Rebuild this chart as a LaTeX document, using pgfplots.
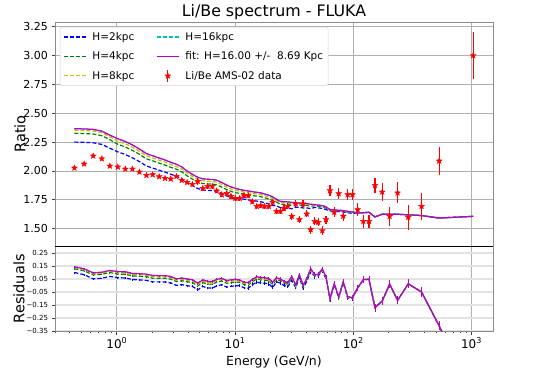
\documentclass[border=0pt]{standalone}
\usepackage{fontspec}
\setmainfont{DejaVu Sans}
\usepackage{pgfplots}
\usepackage{pgfplotstable}
\pgfplotsset{compat=1.18}

\definecolor{mplb}{rgb}{0,0,1}
\definecolor{mplg}{rgb}{0,0.5,0}
\definecolor{mply}{rgb}{0.75,0.75,0}
\definecolor{mplc}{rgb}{0,0.75,0.75}
\definecolor{mplm}{rgb}{0.75,0,0.75}
\definecolor{mplr}{rgb}{1,0,0}
\definecolor{gridgray}{RGB}{176,176,176}
\definecolor{spine}{RGB}{140,140,140}

% filled five-pointed star, like matplotlib's '*'
\pgfdeclareplotmark{fstar}{%
  \pgfpathmoveto{\pgfpointpolar{90}{\pgfplotmarksize}}%
  \pgfpathlineto{\pgfpointpolar{126}{0.42\pgfplotmarksize}}%
  \pgfpathlineto{\pgfpointpolar{162}{\pgfplotmarksize}}%
  \pgfpathlineto{\pgfpointpolar{198}{0.42\pgfplotmarksize}}%
  \pgfpathlineto{\pgfpointpolar{234}{\pgfplotmarksize}}%
  \pgfpathlineto{\pgfpointpolar{270}{0.42\pgfplotmarksize}}%
  \pgfpathlineto{\pgfpointpolar{306}{\pgfplotmarksize}}%
  \pgfpathlineto{\pgfpointpolar{342}{0.42\pgfplotmarksize}}%
  \pgfpathlineto{\pgfpointpolar{18}{\pgfplotmarksize}}%
  \pgfpathlineto{\pgfpointpolar{54}{0.42\pgfplotmarksize}}%
  \pgfpathclose
  \pgfusepathqfillstroke
}

\tikzset{
  hdash/.style={line width=1.2pt, dash pattern=on 4pt off 2pt},
}
\pgfplotsset{
  longline/.style={legend image code/.code={\draw[##1] (0pt,0pt) -- (22pt,0pt);}},
  datalegend/.style={legend image code/.code={
    \draw[color=mplr, line width=1.2pt] (11pt,-6pt) -- (11pt,6pt);
    \begin{scope}[shift={(11pt,0pt)}, color=mplr]
      \pgfsetplotmarksize{3pt}\pgfuseplotmark{fstar}
    \end{scope}}},
}

% E [GeV/n], Li/Be data, error, models H=2,4,8,16 (fit), residuals, residual error
\pgfplotstableread{
E d err m2 m4 m8 m16 r2 r4 r8 r16 rerr
0.438 2.026 0.010 2.250 2.326 2.352 2.366 0.100 0.129 0.139 0.144 0.005
0.529 2.061 0.010 2.248 2.324 2.350 2.364 0.083 0.113 0.123 0.128 0.005
0.631 2.130 0.010 2.244 2.320 2.346 2.360 0.051 0.082 0.092 0.097 0.005
0.747 2.106 0.010 2.230 2.305 2.331 2.345 0.056 0.086 0.096 0.102 0.005
0.873 2.043 0.010 2.197 2.271 2.296 2.310 0.070 0.100 0.110 0.116 0.005
1.02 2.035 0.010 2.165 2.231 2.258 2.279 0.060 0.088 0.099 0.107 0.005
1.18 2.017 0.010 2.142 2.208 2.235 2.255 0.058 0.086 0.097 0.106 0.005
1.355 2.017 0.010 2.114 2.178 2.205 2.225 0.046 0.074 0.085 0.093 0.005
1.553 1.991 0.010 2.081 2.144 2.170 2.190 0.043 0.071 0.083 0.091 0.005
1.78 1.962 0.010 2.043 2.105 2.131 2.150 0.039 0.068 0.079 0.087 0.005
2.01 1.968 0.010 2.025 2.087 2.113 2.132 0.028 0.057 0.069 0.077 0.005
2.28 1.951 0.010 2.006 2.068 2.093 2.112 0.028 0.056 0.068 0.076 0.005
2.56 1.936 0.010 1.990 2.051 2.076 2.095 0.027 0.056 0.067 0.076 0.005
2.86 1.931 0.010 1.971 2.031 2.056 2.075 0.020 0.049 0.061 0.069 0.005
3.19 1.953 0.010 1.955 2.015 2.039 2.058 0.001 0.031 0.042 0.051 0.005
3.54 1.919 0.015 1.933 1.992 2.017 2.035 0.007 0.037 0.048 0.057 0.008
3.93 1.901 0.015 1.900 1.958 1.982 2.000 -0.001 0.029 0.041 0.050 0.008
4.36 1.884 0.015 1.872 1.929 1.952 1.970 -0.007 0.023 0.035 0.044 0.008
4.84 1.910 0.030 1.848 1.904 1.928 1.945 -0.034 -0.003 0.009 0.018 0.012
5.33 1.849 0.020 1.835 1.891 1.915 1.932 -0.007 0.022 0.034 0.043 0.008
5.86 1.867 0.020 1.832 1.888 1.911 1.928 -0.019 0.011 0.023 0.032 0.008
6.43 1.867 0.020 1.830 1.886 1.909 1.926 -0.020 0.010 0.022 0.031 0.008
7.00 1.828 0.020 1.823 1.879 1.902 1.919 -0.003 0.027 0.039 0.047 0.008
7.72 1.795 0.020 1.805 1.860 1.883 1.900 0.006 0.035 0.047 0.055 0.008
8.51 1.806 0.020 1.783 1.838 1.860 1.877 -0.013 0.017 0.029 0.038 0.008
9.25 1.780 0.020 1.769 1.823 1.845 1.862 -0.006 0.023 0.035 0.044 0.008
10.06 1.763 0.020 1.758 1.811 1.833 1.850 -0.003 0.027 0.038 0.047 0.008
10.96 1.763 0.020 1.763 1.807 1.825 1.840 0.000 0.024 0.034 0.042 0.008
11.91 1.786 0.020 1.755 1.799 1.817 1.832 -0.018 0.007 0.017 0.025 0.008
12.95 1.786 0.022 1.749 1.793 1.811 1.826 -0.021 0.004 0.014 0.022 0.012
14.0 1.734 0.022 1.744 1.787 1.805 1.820 0.006 0.030 0.040 0.047 0.012
15.25 1.694 0.022 1.739 1.782 1.800 1.815 0.026 0.050 0.059 0.067 0.012
16.5 1.700 0.023 1.734 1.777 1.796 1.810 0.020 0.044 0.053 0.061 0.012
17.8 1.694 0.023 1.724 1.768 1.786 1.800 0.018 0.042 0.051 0.059 0.012
19.3 1.694 0.024 1.715 1.758 1.776 1.790 0.012 0.036 0.046 0.054 0.012
20.8 1.728 0.024 1.700 1.743 1.761 1.775 -0.016 0.009 0.019 0.026 0.012
22.4 1.651 0.025 1.699 1.730 1.744 1.755 0.028 0.046 0.054 0.059 0.012
24.2 1.651 0.025 1.681 1.713 1.727 1.737 0.018 0.036 0.044 0.050 0.012
25.9 1.676 0.026 1.679 1.710 1.724 1.734 0.001 0.020 0.028 0.033 0.012
27.9 1.694 0.027 1.677 1.708 1.722 1.732 -0.010 0.008 0.016 0.022 0.012
30.2 1.607 0.030 1.673 1.704 1.718 1.728 0.039 0.057 0.064 0.070 0.012
32.6 1.715 0.030 1.686 1.707 1.717 1.724 -0.017 -0.005 0.001 0.005 0.012
35.0 1.579 0.030 1.684 1.705 1.715 1.722 0.062 0.074 0.079 0.083 0.012
37.6 1.715 0.030 1.680 1.701 1.711 1.718 -0.021 -0.008 -0.002 0.002 0.012
40.4 1.628 0.030 1.680 1.701 1.711 1.718 0.031 0.043 0.049 0.052 0.012
43.6 1.492 0.035 1.674 1.695 1.705 1.712 0.109 0.120 0.125 0.129 0.018
47.2 1.564 0.035 1.684 1.698 1.705 1.708 0.071 0.079 0.082 0.084 0.018
50.6 1.555 0.035 1.680 1.694 1.701 1.704 0.074 0.082 0.086 0.087 0.018
54.7 1.484 0.035 1.676 1.690 1.697 1.700 0.115 0.122 0.125 0.127 0.018
58.8 1.579 0.035 1.666 1.680 1.687 1.690 0.052 0.060 0.064 0.066 0.018
63.5 1.830 0.045 1.653 1.660 1.663 1.665 -0.107 -0.102 -0.100 -0.099 0.018
69.1 1.642 0.045 1.651 1.658 1.661 1.663 0.006 0.010 0.012 0.013 0.018
75.3 1.804 0.045 1.648 1.655 1.658 1.660 -0.094 -0.090 -0.088 -0.087 0.018
82.3 1.609 0.045 1.645 1.652 1.655 1.657 0.022 0.026 0.028 0.029 0.018
89.7 1.795 0.045 1.638 1.645 1.648 1.650 -0.096 -0.091 -0.089 -0.088 0.018
98.4 1.795 0.045 1.633 1.640 1.643 1.645 -0.099 -0.094 -0.092 -0.091 0.018
109 1.665 0.058 1.636 1.636 1.636 1.636 -0.018 -0.018 -0.018 -0.018 0.025
121.6 1.564 0.058 1.638 1.638 1.638 1.638 0.045 0.045 0.045 0.045 0.025
135.7 1.564 0.058 1.642 1.642 1.642 1.642 0.048 0.048 0.048 0.048 0.025
152.5 1.875 0.065 1.602 1.602 1.602 1.602 -0.170 -0.170 -0.170 -0.170 0.030
175.8 1.818 0.080 1.625 1.625 1.625 1.625 -0.119 -0.119 -0.119 -0.119 0.030
203 1.607 0.082 1.625 1.625 1.625 1.625 0.011 0.011 0.011 0.011 0.030
237 1.810 0.090 1.625 1.625 1.625 1.625 -0.114 -0.114 -0.114 -0.114 0.030
292 1.599 0.108 1.620 1.620 1.620 1.620 0.013 0.013 0.013 0.013 0.035
378 1.694 0.115 1.614 1.614 1.614 1.614 -0.050 -0.050 -0.050 -0.050 0.035
533 2.087 0.123 1.592 1.592 1.592 1.592 -0.311 -0.311 -0.311 -0.311 0.035
1033 3.000 0.200 1.607 1.607 1.607 1.607 -0.867 -0.867 -0.867 -0.867 0.050
}\libe

\begin{document}
\begin{tikzpicture}
\path[use as bounding box] (0,0) rectangle (548pt,368pt);

% ---- spectrum ----
\begin{axis}[
  scale only axis, width=438pt, height=224pt,
  at={(55pt,122pt)}, anchor=south west,
  xmode=log, xmin=0.30, xmax=1520,
  ymin=1.35, ymax=3.29,
  axis line style={line width=0.8pt, spine},
  tick style={line width=0.8pt, black!75},
  major tick length=3.5pt, minor tick length=2pt,
  tick align=outside, ytick pos=left,
  xtick={1,10,100,1000}, xticklabels={},
  major x tick style={draw=none}, minor x tick style={draw=none},
  grid=major, major grid style={gridgray, line width=0.8pt},
  ytick={1.5,1.75,2,2.25,2.5,2.75,3,3.25},
  yticklabel style={font=\fontsize{11}{13}\selectfont,
    /pgf/number format/.cd, fixed, fixed zerofill, precision=2, assume math mode=true},
  ylabel={Ratio},
  ylabel style={at={(axis description cs:-0.080,0.5)}, anchor=center, font=\fontsize{14.5}{17}\selectfont},
  title={Li/Be spectrum - FLUKA},
  title style={at={(axis description cs:0.5,1)}, anchor=base, yshift=0pt, font=\fontsize{15.8}{18}\selectfont},
  legend columns=2, legend cell align=left,
  legend style={at={(0,1)}, anchor=north west, xshift=5pt, yshift=-5pt,
    draw=gray!35, rounded corners=2pt, fill=white,
    inner xsep=3pt, inner ysep=3pt,
    font=\fontsize{10.5}{12}\selectfont, row sep=6pt,
    /tikz/every odd column/.append style={column sep=4pt},
    /tikz/every even column/.append style={column sep=20pt}},
]
\addplot[mplb, hdash, forget plot] table[x=E, y=m2] {\libe};
\addplot[mplg, hdash, forget plot] table[x=E, y=m4] {\libe};
\addplot[mply, hdash, forget plot] table[x=E, y=m8] {\libe};
\addplot[mplc, hdash, forget plot] table[x=E, y=m16] {\libe};
\addplot[mplm, line width=1.2pt, forget plot] table[x=E, y=m16] {\libe};
\addplot[mplr, only marks, mark=fstar, mark size=3pt, forget plot,
  error bars/.cd, y dir=both, y explicit, error mark=none,
  error bar style={line width=1.2pt, color=mplr}]
  table[x=E, y=d, y error=err] {\libe};

\addlegendimage{mplb, hdash, longline}\addlegendentry{H=2kpc}
\addlegendimage{mplc, hdash, longline}\addlegendentry{H=16kpc}
\addlegendimage{mplg, hdash, longline}\addlegendentry{H=4kpc}
\addlegendimage{mplm, line width=1.2pt, longline}\addlegendentry{fit: H=16.00 +/-\ \ 8.69 Kpc}
\addlegendimage{mply, hdash, longline}\addlegendentry{H=8kpc}
\addlegendimage{datalegend}\addlegendentry{Li/Be AMS-02 data}
\end{axis}

% ---- residuals ----
\begin{axis}[
  scale only axis, width=438pt, height=84.5pt,
  at={(55pt,37pt)}, anchor=south west,
  xmode=log, xmin=0.30, xmax=1520,
  ymin=-0.35, ymax=0.30,
  axis line style={line width=0.8pt, spine},
  tick style={line width=0.8pt, black!75},
  major tick length=3.5pt, minor tick length=2pt,
  tick align=outside, xtick pos=bottom, ytick pos=left,
  grid=major, major grid style={gridgray, line width=0.8pt},
  y grid style={gray!22, line width=1.6pt},
  ytick={-0.35,-0.25,-0.15,-0.05,0.05,0.15,0.25},
  yticklabels={−0.35,−0.25,−0.15,−0.05,0.05,0.15,0.25},
  yticklabel style={font=\fontsize{7}{8}\selectfont},
  xtick={1,10,100,1000},
  minor xtick={0.3,0.4,0.5,0.6,0.7,0.8,0.9,2,3,4,5,6,7,8,9,20,30,40,50,60,70,80,90,200,300,400,500,600,700,800,900},
  xticklabels={10\textsuperscript{0},10\textsuperscript{1},10\textsuperscript{2},10\textsuperscript{3}},
  xticklabel style={font=\fontsize{12}{14}\selectfont},
  xlabel={Energy (GeV/n)},
  xlabel style={at={(axis description cs:0.5,0)}, anchor=base, yshift=-34pt, font=\fontsize{12.5}{15}\selectfont},
  ylabel={Residuals},
  ylabel style={at={(axis description cs:-0.082,0.5)}, anchor=center, font=\fontsize{14.5}{17}\selectfont},
  after end axis/.code={\draw[black, line width=1pt] (rel axis cs:0,1) -- (rel axis cs:1,1);},
]
\addplot[mplb, hdash, error bars/.cd, y dir=both, y explicit, error mark=none,
  error bar style={solid, line width=0.8pt, color=mplb}]
  table[x=E, y=r2, y error=rerr] {\libe};
\addplot[mplg, hdash, error bars/.cd, y dir=both, y explicit, error mark=none,
  error bar style={solid, line width=0.8pt, color=mplg}]
  table[x=E, y=r4, y error=rerr] {\libe};
\addplot[mply, hdash, error bars/.cd, y dir=both, y explicit, error mark=none,
  error bar style={solid, line width=0.8pt, color=mply}]
  table[x=E, y=r8, y error=rerr] {\libe};
\addplot[mplc, hdash, error bars/.cd, y dir=both, y explicit, error mark=none,
  error bar style={solid, line width=0.8pt, color=mplc}]
  table[x=E, y=r16, y error=rerr] {\libe};
\addplot[mplm, line width=1.2pt, error bars/.cd, y dir=both, y explicit, error mark=none,
  error bar style={solid, line width=0.8pt, color=mplm}]
  table[x=E, y=r16, y error=rerr] {\libe};
\end{axis}
\end{tikzpicture}
\end{document}
